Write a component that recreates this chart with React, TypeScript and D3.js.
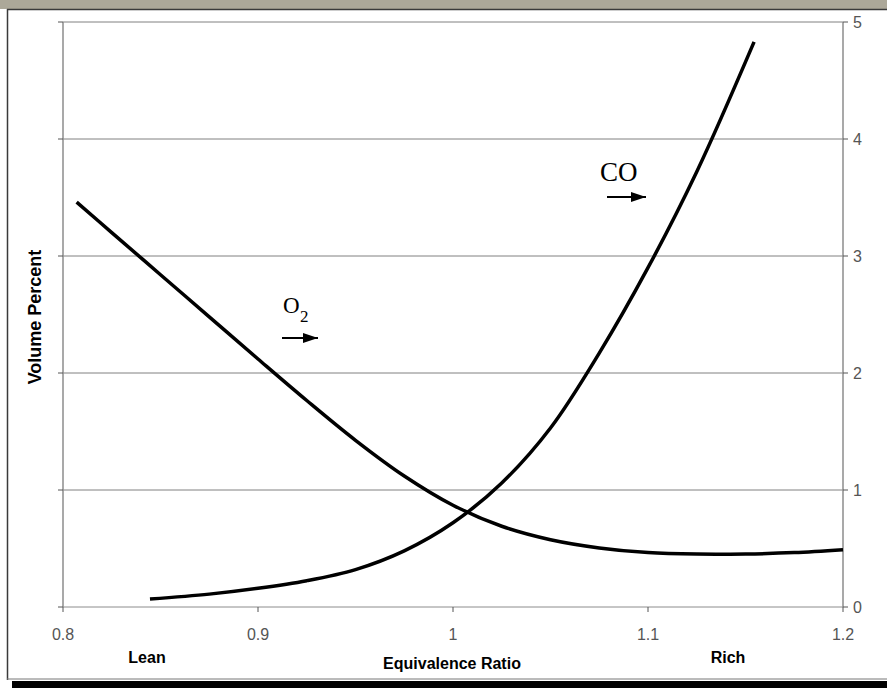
import React from "react";
import * as d3 from "d3";

const xTicks = [0.8, 0.9, 1.0, 1.1, 1.2];
const xTickLabels = ["0.8", "0.9", "1", "1.1", "1.2"];
const yTicks = [0, 1, 2, 3, 4, 5];

const o2X = [0.807, 0.825, 0.85, 0.875, 0.9, 0.925, 0.95, 0.975, 1.0, 1.025, 1.05, 1.075, 1.1, 1.125, 1.15, 1.175, 1.2];
const o2Y = [3.46, 3.2, 2.84, 2.48, 2.12, 1.765, 1.425, 1.12, 0.87, 0.69, 0.575, 0.505, 0.465, 0.452, 0.453, 0.465, 0.49];

const coX = [0.8446, 0.875, 0.9, 0.925, 0.95, 0.975, 1.0, 1.025, 1.05, 1.075, 1.1, 1.125, 1.1544];
const coY = [0.068, 0.11, 0.16, 0.225, 0.32, 0.48, 0.72, 1.06, 1.53, 2.17, 2.9, 3.72, 4.83];

export default function App() {
  const x = d3.scaleLinear().domain([0.8, 1.2]).range([63, 843]);
  const y = d3.scaleLinear().domain([0, 5]).range([607, 22]);
  const line = d3
    .line<[number, number]>()
    .x((d) => x(d[0]))
    .y((d) => y(d[1]))
    .curve(d3.curveCatmullRom.alpha(0.5));
  const o2 = o2X.map((v, i) => [v, o2Y[i]] as [number, number]);
  const co = coX.map((v, i) => [v, coY[i]] as [number, number]);
  const sans = "'Liberation Sans', Arial, sans-serif";
  const serif = "'Liberation Serif', 'Times New Roman', serif";
  const axisColor = "#8c8c8c";
  const gridColor = "#808080";

  return (
    <svg
      width={887}
      height={688}
      style={{ position: "absolute", left: 0, top: 0, background: "#fff" }}
    >
      <defs>
        <marker id="ah" viewBox="0 0 10 10" refX="10" refY="5" markerWidth="15" markerHeight="10" markerUnits="userSpaceOnUse" orient="auto" preserveAspectRatio="none">
          <path d="M0,0 L10,5 L0,10 Z" fill="#000" />
        </marker>
      </defs>
      {/* window frame */}
      <rect x={0} y={0} width={887} height={9} fill="#aca899" />
      <line x1={7} x2={887} y1={9.5} y2={9.5} stroke="#3a3a3a" strokeWidth={1.5} />
      <line x1={7.5} x2={7.5} y1={9} y2={680} stroke="#3a3a3a" strokeWidth={1.5} />
      <line x1={7} x2={887} y1={679} y2={679} stroke="#777" strokeWidth={1} />
      <rect x={12} y={681} width={875} height={7} fill="#000" />

      {/* gridlines */}
      {yTicks.filter((t) => t > 0 && t < 5).map((t) => (
        <line key={"g" + t} x1={x(0.8)} x2={x(1.2)} y1={y(t)} y2={y(t)} stroke={gridColor} strokeWidth={1} />
      ))}
      {/* plot frame */}
      <line x1={x(0.8)} x2={x(1.2)} y1={y(5)} y2={y(5)} stroke={gridColor} strokeWidth={1} />
      <line x1={x(0.8)} x2={x(1.2)} y1={y(0)} y2={y(0)} stroke={axisColor} strokeWidth={1} />
      <line x1={x(0.8)} x2={x(0.8)} y1={y(5)} y2={y(0)} stroke={axisColor} strokeWidth={1.5} />
      <line x1={x(1.2)} x2={x(1.2)} y1={y(5)} y2={y(0)} stroke={axisColor} strokeWidth={1.5} />

      {/* left ticks */}
      {yTicks.map((t) => (
        <line key={"lt" + t} x1={x(0.8) - 5} x2={x(0.8)} y1={y(t)} y2={y(t)} stroke="#555" strokeWidth={1} />
      ))}
      {/* right ticks and labels */}
      {yTicks.map((t) => (
        <g key={"rt" + t}>
          <line x1={x(1.2)} x2={x(1.2) + 5} y1={y(t)} y2={y(t)} stroke="#555" strokeWidth={1} />
          <text x={x(1.2) + 10} y={y(t)} dy="0.35em" fontFamily={sans} fontSize={16} fill="#555">
            {t}
          </text>
        </g>
      ))}
      {/* x ticks and labels */}
      {xTicks.map((t, i) => (
        <g key={"xt" + t}>
          <line x1={x(t)} x2={x(t)} y1={y(0)} y2={y(0) + 5} stroke="#555" strokeWidth={1} />
          <text x={x(t)} y={634} dy="0.35em" textAnchor="middle" fontFamily={sans} fontSize={16} fill="#555">
            {xTickLabels[i]}
          </text>
        </g>
      ))}

      {/* curves */}
      <path d={line(o2) || ""} fill="none" stroke="#000" strokeWidth={3.5} strokeLinecap="butt" />
      <path d={line(co) || ""} fill="none" stroke="#000" strokeWidth={3.5} strokeLinecap="butt" />

      {/* annotations */}
      <text x={283} y={313} fontFamily={serif} fontSize={23} fill="#000">
        O
      </text>
      <text x={300} y={322} fontFamily={serif} fontSize={17} fill="#000">
        2
      </text>
      <line x1={282} x2={318} y1={338} y2={338} stroke="#000" strokeWidth={2} markerEnd="url(#ah)" />
      <text x={600} y={181} fontFamily={serif} fontSize={27} fill="#000">
        CO
      </text>
      <line x1={607} x2={646} y1={197} y2={197} stroke="#000" strokeWidth={2} markerEnd="url(#ah)" />

      {/* axis titles */}
      <text
        transform={`translate(41,317) rotate(-90)`}
        textAnchor="middle"
        fontFamily={sans}
        fontSize={18}
        fontWeight="bold"
        fill="#000"
      >
        Volume Percent
      </text>
      <text x={147} y={663} textAnchor="middle" fontFamily={sans} fontSize={16} fontWeight="bold" fill="#000">
        Lean
      </text>
      <text x={728} y={663} textAnchor="middle" fontFamily={sans} fontSize={16} fontWeight="bold" fill="#000">
        Rich
      </text>
      <text x={452} y={669} textAnchor="middle" fontFamily={sans} fontSize={16} fontWeight="bold" fill="#000">
        Equivalence Ratio
      </text>
    </svg>
  );
}
